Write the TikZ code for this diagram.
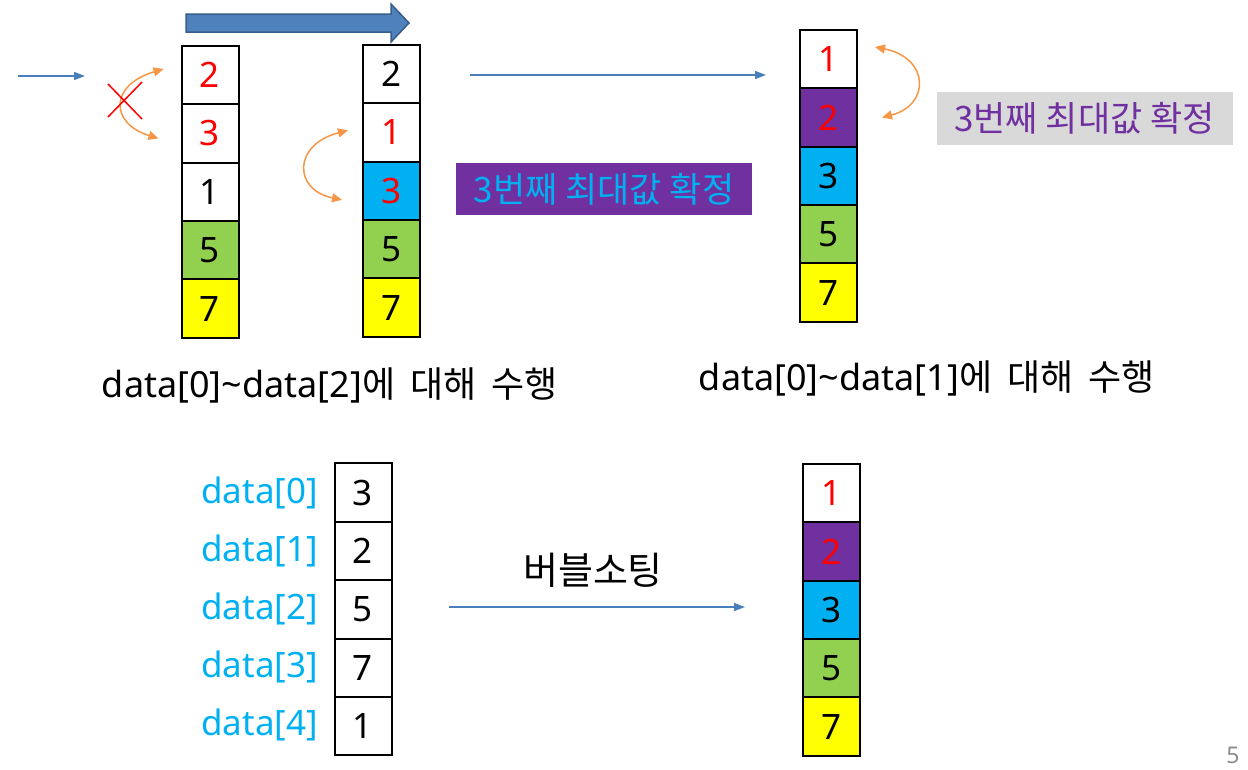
\documentclass[tikz,border=0pt]{standalone}
\usepackage{fontspec}
\setmainfont{Noto Sans}
\newfontfamily\kr{Noto Sans CJK KR}
\usepackage{tikz}
\usetikzlibrary{positioning, arrows.meta}
\definecolor{green}{RGB}{146, 208, 80}
\definecolor{yellow}{RGB}{255, 255, 0}
\definecolor{sky}{RGB}{0, 176, 240}
\definecolor{violet}{RGB}{112, 48, 160}
\definecolor{swap}{RGB}{247, 150, 70}
\definecolor{flow}{RGB}{74, 126, 187}
\definecolor{bigfill}{RGB}{79, 129, 189}
\definecolor{bigedge}{RGB}{56, 93, 138}
\definecolor{note}{RGB}{217, 217, 217}
\definecolor{pageno}{RGB}{140, 140, 140}

\begin{document}
\begin{tikzpicture}[x=1pt, y=-1pt,
  big/.style={font=\fontsize{35}{42}\selectfont},
  cell/.style={big, draw, line width=2, minimum width=57, minimum height=58.4, inner sep=0, outer sep=0},
  flowline/.style={-{Triangle[length=11pt, width=8pt]}, color=flow, line width=1.5},
  swapline/.style={{Triangle[length=10pt, width=9pt]}-{Triangle[length=10pt, width=9pt]}, color=swap, line width=1.5}]
  \useasboundingbox (0, 0) rectangle (1248, 769);

  \fill [fill=bigfill, draw=bigedge, line width=1.5] (186, 14) -- (391, 14) -- (391, 4) -- (409, 23)
  -- (391, 42) -- (391, 32) -- (186, 32) -- cycle;

  \node[cell, text=red] (a1) at (210, 75) {2};
  \node[cell, text=red, below=0pt of a1] (a2) {3};
  \node[cell, below=0pt of a2] (a3) {1};
  \node[cell, fill=green, below=0pt of a3] (a4) {5};
  \node[cell, fill=yellow, below=0pt of a4] (a5) {7};

  \node[cell] (b1) at (391.5, 74) {2};
  \node[cell, text=red, below=0pt of b1] (b2) {1};
  \node[cell, text=red, fill=sky, below=0pt of b2] (b3) {3};
  \node[cell, fill=green, below=0pt of b3] (b4) {5};
  \node[cell, fill=yellow, below=0pt of b4] (b5) {7};

  \node[cell, text=red] (c1) at (828.5, 59) {1};
  \node[cell, text=red, fill=violet, below=0pt of c1] (c2) {2};
  \node[cell, fill=sky, below=0pt of c2] (c3) {3};
  \node[cell, fill=green, below=0pt of c3] (c4) {5};
  \node[cell, fill=yellow, below=0pt of c4] (c5) {7};

  \node[cell] (d1) at (363, 492.5) {3};
  \node[cell, below=0pt of d1] (d2) {2};
  \node[cell, below=0pt of d2] (d3) {5};
  \node[cell, below=0pt of d3] (d4) {7};
  \node[cell, below=0pt of d4] (d5) {1};

  \node[cell, text=red] (e1) at (831.5, 493) {1};
  \node[cell, text=red, fill=violet, below=0pt of e1] (e2) {2};
  \node[cell, fill=sky, below=0pt of e2] (e3) {3};
  \node[cell, fill=green, below=0pt of e3] (e4) {5};
  \node[cell, fill=yellow, below=0pt of e4] (e5) {7};

  \node[big, text=sky, anchor=east, inner sep=0] (d1name) at (318, 492.5) {data[0]};
  \node[big, text=sky, anchor=east, inner sep=0] (d2name) at (318, 550.5) {data[1]};
  \node[big, text=sky, anchor=east, inner sep=0] (d3name) at (318, 608.5) {data[2]};
  \node[big, text=sky, anchor=east, inner sep=0] (d4name) at (318, 666.5) {data[3]};
  \node[big, text=sky, anchor=east, inner sep=0] (d5name) at (318, 724.5) {data[4]};

  \node[font=\fontsize{36}{42}\selectfont] (pass1) at (330, 385)
  {data[0]\textasciitilde data[2]{\kr 에\hspace{0.42em}대해\hspace{0.42em}수행}};
  \node[font=\fontsize{36}{42}\selectfont] (pass2) at (927, 378)
  {data[0]\textasciitilde data[1]{\kr 에\hspace{0.42em}대해\hspace{0.42em}수행}};
  \node[font=\fontsize{38}{44}\selectfont] (sortname) at (593, 570) {\kr 버블소팅};

  \node[big, fill=violet, text=sky, minimum width=296, minimum height=52] (max1) at (604, 189) {\kr 3번째 최대값 확정};
  \node[big, fill=note, text=violet, minimum width=296, minimum height=53] (max2) at (1084.5, 118) {\kr 3번째 최대값 확정};

  \node[text=pageno, inner sep=0, font=\fontsize{23}{26}\selectfont] (page) at (1233, 755) {5};

  \coordinate (in0) at (18, 76);
  \coordinate (in1) at (85, 76);
  \coordinate (go0) at (470, 75);
  \coordinate (go1) at (766, 75);
  \coordinate (sort0) at (449, 607);
  \coordinate (sort1) at (745, 607);
  \draw [flowline] (in0) -- (in1);
  \draw [flowline] (go0) -- (go1);
  \draw [flowline] (sort0) -- (sort1);

  \draw [swapline] ([shift={(-18, -6)}]a1.west) .. controls +(-54, 16) and +(-49, -15) .. ([shift={(-23, 5)}]a2.west);
  \draw [swapline] ([shift={(-15, -2)}]b2.west) .. controls +(-55, 14) and +(-49, -10) .. ([shift={(-21, 9)}]b3.west);
  \draw [swapline] ([shift={(18, -12)}]c1.east) .. controls +(55, 11) and +(48, -12) .. ([shift={(25, 0)}]c2.east);

  \draw [red, line width=1.5] (108, 84) -- (142, 119);
  \draw [red, line width=1.5] (142, 82) -- (108, 117);
\end{tikzpicture}
\end{document}
